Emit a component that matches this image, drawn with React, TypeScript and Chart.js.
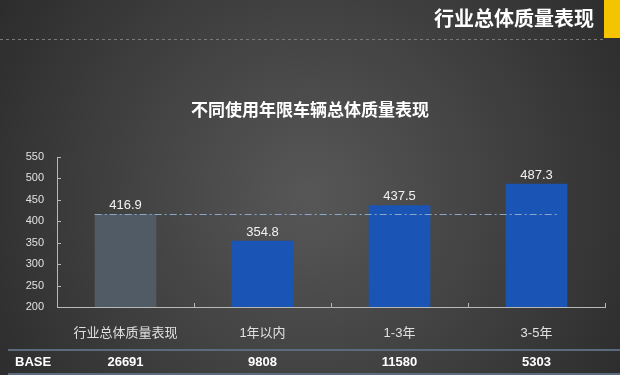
import React, { useEffect, useRef } from "react";
import { Chart, registerables } from "chart.js";

Chart.register(...registerables);

const categories = ["行业总体质量表现", "1年以内", "1-3年", "3-5年"];
const scores = [416.9, 354.8, 437.5, 487.3];
const baseCounts = ["26691", "9808", "11580", "5303"];
const barColors = ["#505b66", "#1a55b5", "#1a55b5", "#1a55b5"];
const yMin = 200;
const yMax = 550;
const yStep = 50;
const industryAverage = 416.9;
const titleText = "不同使用年限车辆总体质量表现";
const headerText = "行业总体质量表现";
const baseLabel = "BASE";

const FONT = "'Liberation Sans', 'Noto Sans CJK SC', Arial, sans-serif";

const decorPlugin = {
  id: "decor",
  beforeDraw(chart: any) {
    const { ctx, width, height } = chart;
    ctx.save();
    const g = ctx.createRadialGradient(width * 0.5, height * 0.52, 10, width * 0.5, height * 0.52, width * 0.62);
    g.addColorStop(0, "#565656");
    g.addColorStop(0.55, "#3e3e3e");
    g.addColorStop(1, "#2a2a2a");
    ctx.fillStyle = g;
    ctx.fillRect(0, 0, width, height);

    // header
    ctx.fillStyle = "#f5c400";
    ctx.fillRect(604, 0, 16, 38);
    ctx.fillStyle = "#ffffff";
    ctx.font = `bold 20px ${FONT}`;
    ctx.textAlign = "right";
    ctx.textBaseline = "middle";
    ctx.fillText(headerText, 594, 20);

    ctx.strokeStyle = "#7a7a7a";
    ctx.lineWidth = 1;
    ctx.setLineDash([3, 3]);
    ctx.beginPath();
    ctx.moveTo(0, 39.5);
    ctx.lineTo(604, 39.5);
    ctx.stroke();
    ctx.setLineDash([]);

    // title
    ctx.fillStyle = "#ffffff";
    ctx.font = `bold 17px ${FONT}`;
    ctx.textAlign = "center";
    ctx.fillText(titleText, 310, 111);
    ctx.restore();
  },
  afterDatasetsDraw(chart: any) {
    const { ctx, scales, chartArea } = chart;
    const x = scales.x;
    const y = scales.y;
    const meta = chart.getDatasetMeta(0);
    ctx.save();

    // inward ticks on y axis
    ctx.strokeStyle = "#b8b8b8";
    ctx.lineWidth = 1;
    for (let v = yMin; v <= yMax; v += yStep) {
      const py = Math.round(y.getPixelForValue(v)) + 0.5;
      ctx.beginPath();
      ctx.moveTo(chartArea.left, py);
      ctx.lineTo(chartArea.left + 4, py);
      ctx.stroke();
    }
    // inward ticks on x axis at category boundaries
    for (let i = 0; i <= categories.length; i++) {
      const px = Math.round(x.getPixelForValue(i - 0.5)) + 0.5;
      ctx.beginPath();
      ctx.moveTo(px, chartArea.bottom);
      ctx.lineTo(px, chartArea.bottom - 4);
      ctx.stroke();
    }

    // average dashed line
    const bar0 = meta.data[0];
    const barLast = meta.data[meta.data.length - 1];
    const avgY = Math.round(y.getPixelForValue(industryAverage)) + 0.5;
    ctx.strokeStyle = "#8aa6c8";
    ctx.setLineDash([7, 3, 2, 3]);
    ctx.beginPath();
    ctx.moveTo(bar0.x - bar0.width / 2, avgY);
    ctx.lineTo(barLast.x + barLast.width * 0.36, avgY);
    ctx.stroke();
    ctx.setLineDash([]);

    // data labels
    ctx.fillStyle = "#f2f2f2";
    ctx.font = `13px ${FONT}`;
    ctx.textAlign = "center";
    ctx.textBaseline = "bottom";
    meta.data.forEach((el: any, i: number) => {
      ctx.fillText(scores[i].toFixed(1), el.x, el.y - 2);
    });

    // BASE row
    ctx.fillStyle = "#5a6b7d";
    ctx.fillRect(8, 349, 612, 2);
    ctx.fillRect(8, 373, 612, 2);
    ctx.fillStyle = "#ffffff";
    ctx.font = `bold 13px ${FONT}`;
    ctx.textBaseline = "middle";
    ctx.textAlign = "left";
    ctx.fillText(baseLabel, 15, 362);
    ctx.textAlign = "center";
    meta.data.forEach((el: any, i: number) => {
      ctx.fillText(baseCounts[i], el.x, 362);
    });
    ctx.restore();
  },
};

export default function App() {
  const ref = useRef<HTMLCanvasElement | null>(null);
  useEffect(() => {
    document.body.style.margin = "0";
    const canvas = ref.current;
    if (!canvas) return;
    const chart = new Chart(canvas, {
      type: "bar",
      data: {
        labels: categories,
        datasets: [
          {
            data: scores,
            backgroundColor: barColors,
            borderWidth: 0,
            barPercentage: 0.45,
            categoryPercentage: 1,
          },
        ],
      },
      options: {
        responsive: false,
        animation: false,
        devicePixelRatio: 1,
        layout: { padding: { top: 157, right: 15, left: 0, bottom: 0 } },
        plugins: { legend: { display: false }, tooltip: { enabled: false }, title: { display: false } },
        scales: {
          x: {
            grid: { display: false, drawTicks: false },
            border: { display: true, color: "#b8b8b8", width: 1 },
            ticks: { color: "#e0e0e0", font: { size: 13, family: FONT }, padding: 19, maxRotation: 0 },
            afterFit: (s: any) => {
              s.height = 68;
            },
          },
          y: {
            min: yMin,
            max: yMax,
            grid: { display: false, drawTicks: false },
            border: { display: true, color: "#b8b8b8", width: 1 },
            ticks: { stepSize: yStep, color: "#e0e0e0", font: { size: 11, family: FONT }, padding: 13 },
            afterFit: (s: any) => {
              s.width = 57;
            },
          },
        },
      },
      plugins: [decorPlugin],
    });
    return () => chart.destroy();
  }, []);
  return (
    <div style={{ position: "absolute", left: 0, top: 0, width: 620, height: 375 }}>
      <canvas ref={ref} width={620} height={375} style={{ display: "block", width: 620, height: 375 }} />
    </div>
  );
}
